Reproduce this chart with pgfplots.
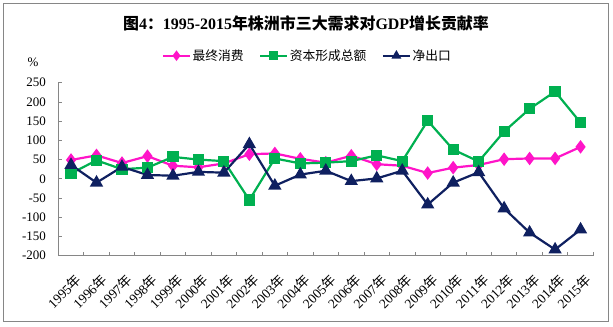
\documentclass[border=0pt]{standalone}
\usepackage{fontspec}
\setmainfont{Liberation Serif}
\newfontfamily\cjk{Noto Sans CJK SC}
\usepackage{pgfplots}
\pgfplotsset{compat=1.18}
\definecolor{cpink}{HTML}{FF14C8}
\definecolor{cgreen}{HTML}{00B050}
\definecolor{cnavy}{HTML}{0F2060}
\definecolor{cgray}{HTML}{868686}
\pgfplotstableread{
x pink green navy
0 49 14 36
1 61 48 -10
2 41 25 31
3 59 29 10
4 34 57 8
5 30 50 18
6 40 46 16
7 64 -55 90
8 66 53 -18
9 52 40 11
10 42 42 21
11 60 46 -6
12 38 61 1
13 34 46 21
14 15 151 -67
15 29 76 -10
16 36 45 17
17 51 123 -77
18 53 182 -140
19 53 227 -184
20 83 146 -132
}\datatable
\begin{document}
\begin{tikzpicture}
\path (0,0) rectangle (613bp,327bp);
\draw[cgray, line width=1bp] (3bp,5bp) rectangle (608bp,323bp);
\node[font=\fontsize{16}{19}\selectfont\bfseries] at (306bp,304bp)
  {{\cjk 图}4{\cjk ：}1995-2015{\cjk 年株洲市三大需求对}GDP{\cjk 增长贡献率}};
\node[font=\fontsize{13}{15}\selectfont] at (33bp,264.7bp) {\%};
\begin{axis}[
  at={(58.3bp,71.3bp)}, anchor=south west,
  scale only axis, width=535bp, height=173bp,
  xmin=-0.5, xmax=20.5, ymin=-200, ymax=250,
  axis x line*=bottom, axis y line*=left,
  axis line style={-, draw=cgray, line width=0.8bp},
  tick style={draw=cgray, line width=0.8bp},
  major tick length=3.3bp,
  xtick={-0.5,0.5,...,20.5}, xticklabels={},
  extra x ticks={0,...,20},
  extra x tick labels={1995{\cjk 年},1996{\cjk 年},1997{\cjk 年},1998{\cjk 年},1999{\cjk 年},2000{\cjk 年},2001{\cjk 年},2002{\cjk 年},2003{\cjk 年},2004{\cjk 年},2005{\cjk 年},2006{\cjk 年},2007{\cjk 年},2008{\cjk 年},2009{\cjk 年},2010{\cjk 年},2011{\cjk 年},2012{\cjk 年},2013{\cjk 年},2014{\cjk 年},2015{\cjk 年}},
  extra x tick style={major tick length=0pt, tick style={draw=none},
    xticklabel style={rotate=45, anchor=north east, inner sep=0pt, font=\fontsize{13.5}{15}\selectfont, xshift=-9.9bp, yshift=-14.1bp}},
  ytick={-200,-150,...,250},
  yticklabels={-200,-150,-100,-50,0,50,100,150,200,250},
  yticklabel style={font=\fontsize{13}{15}\selectfont, xshift=-9bp},
  legend columns=3,
  legend style={at={(0.465,1.156)}, anchor=center, draw=none, fill=none,
    font=\fontsize{12.8}{15}\selectfont,
    /tikz/every even column/.append style={column sep=14bp},
    nodes={inner sep=1.5bp}},
  legend image code/.code={\draw[mark repeat=2,mark phase=2,mark size=3.5bp] plot coordinates {(0bp,0bp) (13.5bp,0bp) (27bp,0bp)};},
]
\addplot[cpink, line width=2.2bp, mark=diamond*, mark size=5bp, mark options={solid}] table[x=x,y=pink] {\datatable};
\addlegendentry{{\cjk 最终消费}}
\addplot[cgreen, line width=2.2bp, mark=square*, mark size=4.5bp, mark options={solid}] table[x=x,y=green] {\datatable};
\addlegendentry{{\cjk 资本形成总额}}
\addplot[cnavy, line width=2.2bp, mark=triangle*, mark size=5.5bp, mark options={solid}] table[x=x,y=navy] {\datatable};
\addlegendentry{{\cjk 净出口}}
\end{axis}
\end{tikzpicture}
\end{document}
